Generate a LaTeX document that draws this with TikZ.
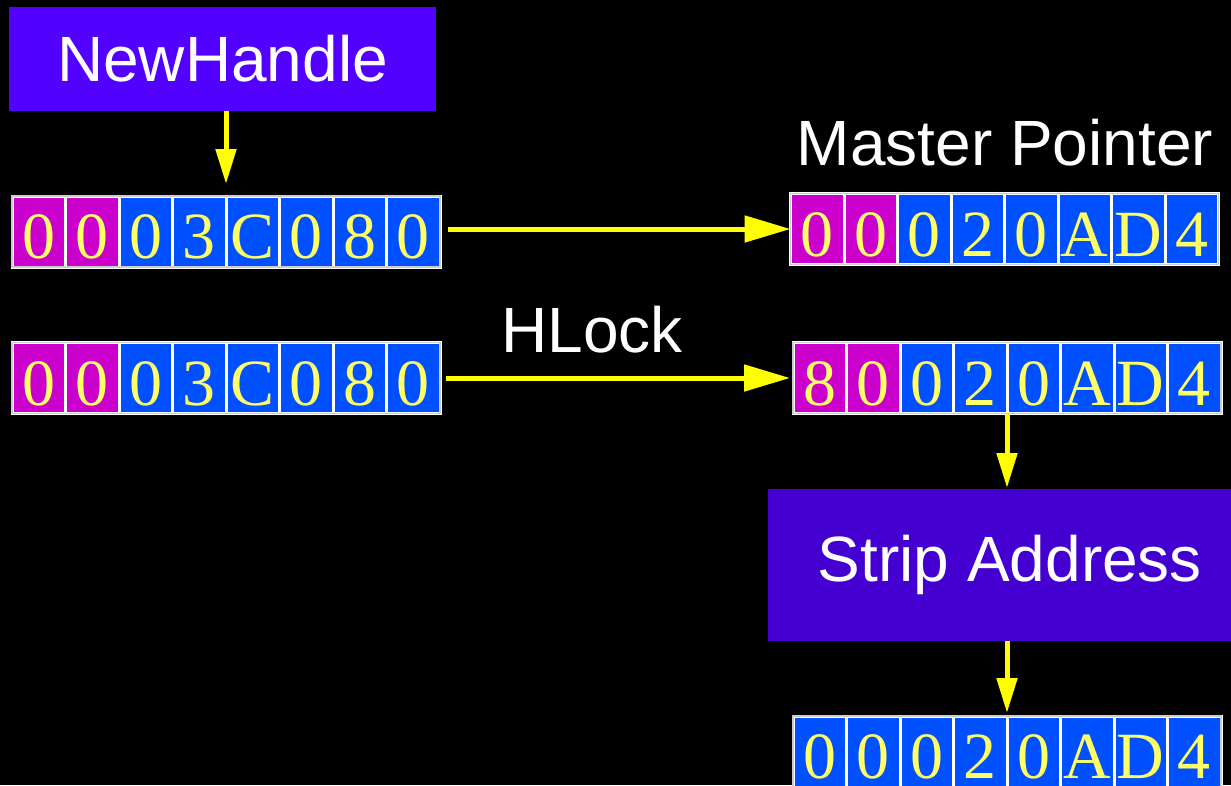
\documentclass[tikz,border=0pt]{standalone}
\usepackage{fontspec}
\setmainfont{Liberation Serif}
\setsansfont{Liberation Sans}
\usetikzlibrary{positioning,arrows.meta}

\definecolor{handlepurple}{HTML}{5200FF}
\definecolor{strippurple}{HTML}{4400D0}
\definecolor{flagmagenta}{HTML}{CC00CC}
\definecolor{addrblue}{HTML}{0050FF}
\definecolor{digityellow}{HTML}{FFFF66}
\definecolor{arrowyellow}{HTML}{FFFF00}

\tikzset{
  cell/.style={draw=white, line width=3pt, fill=#1, minimum width=53.5pt, minimum height=71pt,
    inner sep=0pt, outer sep=0pt, text=digityellow, font=\fontsize{66}{70}\selectfont,
    text height=54pt, text depth=0pt},
  regframe/.style={minimum width=428pt, minimum height=71pt, inner sep=0pt, outer sep=0pt},
  call/.style={fill=handlepurple, text=white, inner sep=0pt, outer sep=0pt,
    font=\sffamily\fontsize{64}{70}\selectfont},
  heading/.style={text=white, inner sep=0pt, font=\sffamily\fontsize{64}{70}\selectfont},
  flow/.style={draw=arrowyellow, line width=5pt, -{Triangle[length=35pt,width=20pt]}},
  longflow/.style={flow, -{Triangle[length=46pt,width=26pt]}}
}

% one 32-bit register: name, centre, digits, number of flag bytes
\newcommand{\register}[4]{%
  \node[regframe] (#1) at (#2) {};
  \foreach \d [count=\i] in {#3} {
    \ifnum\i>#4 \def\cellfill{addrblue}\else\def\cellfill{flagmagenta}\fi
    \node[cell=\cellfill, anchor=west] (#1-\i) at ([xshift={(\i-1)*53.5pt}]#1.west) {\d};
  }
  \draw[gray!40, line width=1.5pt] (#1.south west) rectangle (#1.north east);
}

\begin{document}
\begin{tikzpicture}[x=1pt, y=-1pt]
  \fill[black] (0,0) rectangle (1231,785);
  \useasboundingbox (0,0) rectangle (1231,785);

  % Toolbox calls
  \node[call, minimum width=427pt, minimum height=104pt] (newhandle) at (222.5,59) {NewHandle};
  \node[call, fill=strippurple, minimum width=484pt, minimum height=152pt] (strip) at (1010,565) {Strip Address};

  % Headings
  \node[heading] (mptitle) at (1005,143) {Master Pointer};
  \node[heading] (hlock) at (592,330) {HLock};

  % Registers
  \register{handleA}{226,231.5}{0,0,0,3,C,0,8,0}{2}
  \register{handleB}{226,378}{0,0,0,3,C,0,8,0}{2}
  \register{masterA}{1004.5,229}{0,0,0,2,0,A,D,4}{2}
  \register{masterB}{1007,378}{8,0,0,2,0,A,D,4}{2}
  \register{addr}{1007,751.5}{0,0,0,2,0,A,D,4}{0}

  % Arrows
  \draw[flow, shorten >=12pt] (handleA.north |- newhandle.south) -- (handleA.north);
  \draw[longflow, shorten <=8pt] (handleA.east |- masterA.west) -- (masterA.west);
  \draw[longflow, shorten <=6pt, shorten >=3pt] (handleB.east) -- (masterB.west);
  \draw[flow, shorten >=1pt] (masterB.south) -- (masterB.south |- strip.north);
  \draw[flow, shorten >=3pt] (masterB.south |- strip.south) -- (addr.north);
\end{tikzpicture}
\end{document}
